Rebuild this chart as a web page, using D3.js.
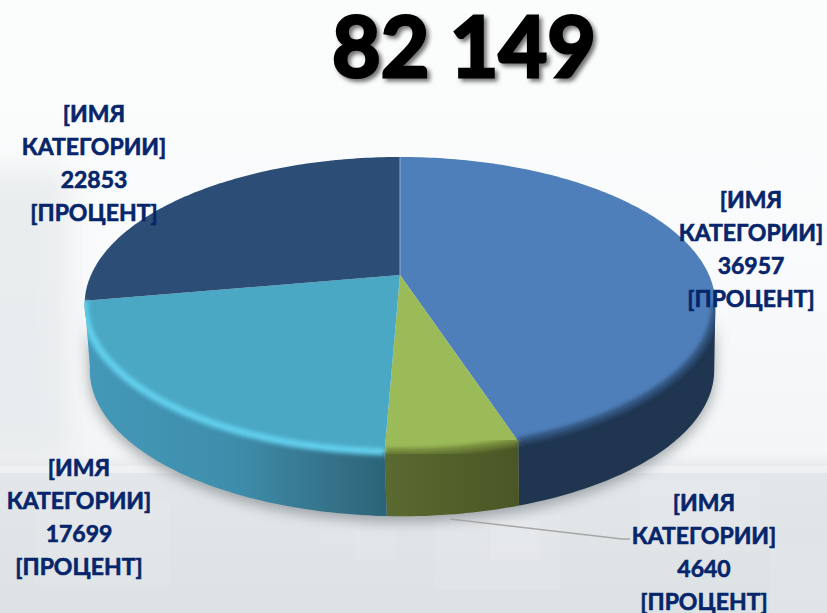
<!DOCTYPE html>
<html>
<head>
<meta charset="utf-8">
<style>
html, body { margin: 0; padding: 0; background: #fff; }
svg { display: block; }
text { font-family: Lato, "Open Sans", sans-serif; font-weight: 700; }
</style>
</head>
<body>
<svg width="827" height="613"></svg>
<script src="https://d3js.org/d3.v7.min.js"></script>
<script>
var total = "82 149";
var categories = ["[ИМЯ КАТЕГОРИИ] A", "[ИМЯ КАТЕГОРИИ] B", "[ИМЯ КАТЕГОРИИ] C", "[ИМЯ КАТЕГОРИИ] D"];
var values = [36957, 4640, 17699, 22853];
var labelLines = ["[ИМЯ", "КАТЕГОРИИ]", null, "[ПРОЦЕНТ]"];

var faceColors = ["#4f7fba", "#9bbb59", "#4aa8c4", "#2c4d75"];
var rimColors = ["#2f4f78", "#6f8238", "#62d0ee", "none"];
var labelPos = [[751, 200], [704, 503], [79, 468], [94, 114]];

var svg = d3.select("svg"), width = 827, height = 613;
var defs = svg.append("defs");

// perspective of the tilted disc
var cx = 400, cy = 275, a = 309, b = 141.6, k = 0.2, depth = 65, wallScale = 0.99, wallShift = 2;
function project(t, r, drop) {
	var den = 1 + k * r * Math.cos(t);
	var s = drop ? wallScale : 1;
	return [cx + (drop ? wallShift : 0) + s * a * r * Math.sin(t) / den,
			cy + (drop ? depth + 1 : 0) + s * b * (-r * Math.cos(t)) / den];
}
var line = d3.line();
function arcPoints(t0, t1, drop) {
	var n = Math.max(2, Math.ceil(Math.abs(t1 - t0) * 60));
	return d3.range(n + 1).map(function(i) {
		return project(t0 + (t1 - t0) * i / n, 1, drop);
	});
}

var pie = d3.pie().sort(null).value(function(d) { return d; });
var slices = pie(values);

// ---- background
var bg = defs.append("linearGradient").attr("id", "bg").attr("x1", 0).attr("x2", 0).attr("y1", 0).attr("y2", 1);
bg.append("stop").attr("offset", 0).attr("stop-color", "#fbfcfc");
bg.append("stop").attr("offset", 0.45).attr("stop-color", "#f9fafb");
bg.append("stop").attr("offset", 0.74).attr("stop-color", "#f3f5f6");
bg.append("stop").attr("offset", 0.77).attr("stop-color", "#e3e7ea");
bg.append("stop").attr("offset", 1).attr("stop-color", "#dce1e4");
svg.append("rect").attr("width", width).attr("height", height).attr("fill", "url(#bg)");
defs.append("filter").attr("id", "haze").attr("x", "-50%").attr("y", "-20%").attr("width", "200%").attr("height", "140%")
	.append("feGaussianBlur").attr("stdDeviation", 14);
svg.append("rect").attr("x", -40).attr("y", 170).attr("width", 110).attr("height", 290)
	.attr("fill", "#e6eaec").attr("opacity", 0.8).attr("filter", "url(#haze)");
svg.append("rect").attr("y", 466).attr("width", width).attr("height", 7).attr("fill", "#fff").attr("opacity", 0.4);

var squares = [[35, 500, 135, 85], [320, 515, 40, 30], [355, 530, 40, 30], [435, 515, 125, 75], [490, 520, 50, 40], [770, 545, 57, 68], [640, 480, 120, 70]];
svg.append("g").selectAll("rect").data(squares).join("rect")
	.attr("x", function(d) { return d[0]; })
	.attr("y", function(d) { return d[1]; })
	.attr("width", function(d) { return d[2]; })
	.attr("height", function(d) { return d[3]; })
	.attr("fill", "#fff").attr("opacity", 0.1);

// ---- filters and wall shading
defs.append("filter").attr("id", "shadow").attr("x", "-20%").attr("y", "-20%").attr("width", "140%").attr("height", "140%")
	.append("feGaussianBlur").attr("stdDeviation", 7);
defs.append("filter").attr("id", "soft").attr("x", "-10%").attr("y", "-10%").attr("width", "120%").attr("height", "120%")
	.append("feGaussianBlur").attr("stdDeviation", 2);

var wallStops = [
	[["#1f3550", 0], ["#1f3550", 1]],
	[["#5a6a30", 0], ["#4a5626", 1]],
	[["#4499b8", 0], ["#3e8dab", 0.5], ["#346f86", 0.85], ["#2b6478", 1]]
];
wallStops.forEach(function(stops, i) {
	var g = defs.append("linearGradient").attr("id", "wall" + i).attr("gradientUnits", "objectBoundingBox");
	stops.forEach(function(s) {
		g.append("stop").attr("offset", s[1]).attr("stop-color", s[0]);
	});
});

// ---- drop shadow under the disc
var outline = arcPoints(Math.PI * 0.56, Math.PI * 1.44, true).concat(arcPoints(Math.PI * 1.44, Math.PI * 0.56, false));
svg.append("path").attr("d", line(outline) + "Z")
	.attr("transform", "translate(0,5)")
	.attr("fill", "#5c6468").attr("opacity", 0.55).attr("filter", "url(#shadow)");

// ---- walls, only the part of a slice that faces the viewer
var wallFrom = Math.acos(-k), wallTo = 2 * Math.PI - Math.acos(-k) + 0.03;
var front = slices.filter(function(d) { return d.endAngle > wallFrom && d.startAngle < wallTo; });
svg.append("g").selectAll("path").data(front).join("path")
	.attr("d", function(d) {
		var t0 = Math.max(d.startAngle, wallFrom), t1 = Math.min(d.endAngle, wallTo);
		return line(arcPoints(t0, t1, false).concat(arcPoints(t1, t0, true))) + "Z";
	})
	.attr("fill", function(d) { return "url(#wall" + d.index + ")"; });

// ---- top faces
function facePath(d) {
	return line([project(0, 0, false)].concat(arcPoints(d.startAngle, d.endAngle, false))) + "Z";
}
svg.append("g").selectAll("path").data(slices).join("path")
	.attr("d", facePath)
	.attr("fill", function(d, i) { return faceColors[i]; });

// soft bevel along the front rim, kept inside the disc
var clip = defs.append("clipPath").attr("id", "disc");
clip.append("path").attr("d", line(arcPoints(0, 2 * Math.PI, false)) + "Z");
clip.append("path").attr("d", line(arcPoints(wallFrom, wallTo, false).concat(arcPoints(wallTo, wallFrom, true))) + "Z");
svg.append("g").attr("clip-path", "url(#disc)").selectAll("path").data(front).join("path")
	.attr("d", function(d) {
		var t0 = Math.max(d.startAngle, wallFrom), t1 = Math.min(d.endAngle, wallTo);
		return line(arcPoints(t0, t1, false));
	})
	.attr("fill", "none")
	.attr("stroke", function(d, i) { return rimColors[d.index]; })
	.attr("stroke-width", 7)
	.attr("filter", "url(#soft)");

// light seam at the start of the first slice
svg.append("path")
	.attr("d", line([project(0, 0, false), project(0, 1, false)]))
	.attr("stroke", "#8fb0d8").attr("stroke-width", 1).attr("fill", "none");

// ---- leader line of the small slice
svg.append("path")
	.attr("d", line([[450, 519], [622, 539], [630, 539]]))
	.attr("fill", "none").attr("stroke", "#a6a6a6").attr("stroke-width", 1.3);

// ---- labels
var labels = svg.append("g").selectAll("g").data(values).join("g");
labels.each(function(v, i) {
	var g = d3.select(this);
	labelLines.forEach(function(t, j) {
		g.append("text")
			.attr("x", labelPos[i][0])
			.attr("y", labelPos[i][1] + j * 33 + 8)
			.attr("text-anchor", "middle")
			.attr("font-size", 23)
			.attr("fill", "#06256a")
			.attr("stroke", "#06256a").attr("stroke-width", 0.6)
			.text(t === null ? v : t);
	});
});

// ---- total
defs.append("filter").attr("id", "titleShadow").attr("x", "-10%").attr("y", "-10%").attr("width", "120%").attr("height", "130%")
	.append("feDropShadow").attr("dx", 3).attr("dy", 3).attr("stdDeviation", 2).attr("flood-color", "#000").attr("flood-opacity", 0.55);
svg.append("text")
	.attr("x", 464).attr("y", 77)
	.attr("text-anchor", "middle")
	.attr("font-size", 84)
	.attr("fill", "#000")
	.attr("stroke", "#000").attr("stroke-width", 3)
	.attr("filter", "url(#titleShadow)")
	.text(total);
</script>
</body>
</html>
